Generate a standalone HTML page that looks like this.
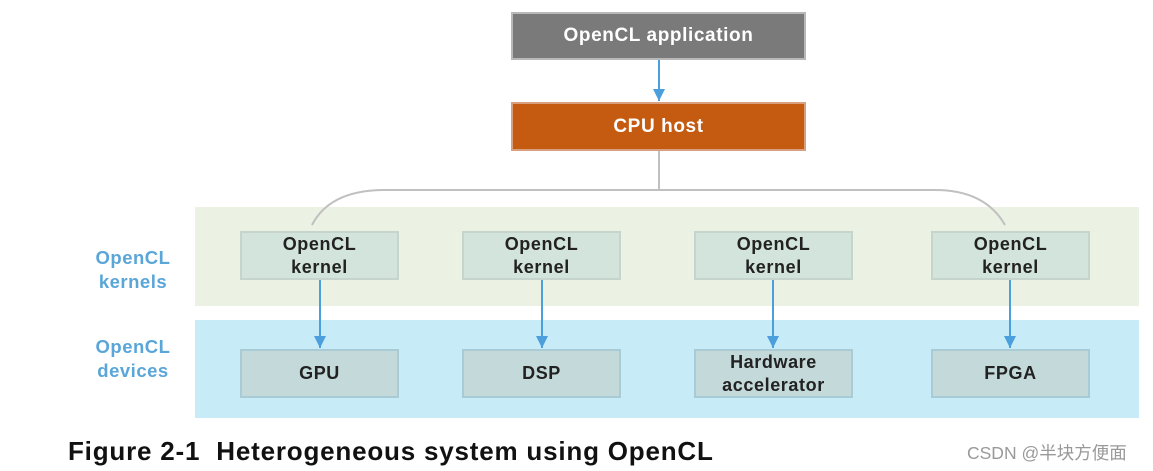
<!DOCTYPE html>
<html><head><style>
body{margin:0;width:1153px;height:471px;background:#fff;position:relative;font-family:"Liberation Sans",Arial,sans-serif;overflow:hidden}
.b{position:absolute;display:flex;align-items:center;justify-content:center;text-align:center;font-weight:bold;box-sizing:border-box;letter-spacing:0.6px}
.k{background:#d3e4dd;border:2px solid #c5d5ce;color:#222;font-size:18px;line-height:23px;width:159px;height:49px;top:231px}
.d{background:#c4d9d9;border:2px solid #a8cbd6;color:#222;font-size:18px;line-height:23px;width:159px;height:49px;top:349px}
.lab{position:absolute;color:#5aa6d9;font-weight:bold;font-size:18.5px;line-height:24px;text-align:center;width:100px;letter-spacing:0.5px}
</style></head><body>
<div style="position:absolute;left:195px;top:207px;width:944px;height:99px;background:#ebf1e3"></div>
<div style="position:absolute;left:195px;top:320px;width:944px;height:98px;background:#c8ebf8"></div>
<div class="b" style="left:511px;top:12px;width:295px;height:48px;background:#7a7a7a;border:2px solid #b8b8b8;color:#fff;font-size:19px">OpenCL application</div>
<div class="b" style="left:511px;top:102px;width:295px;height:49px;background:#c55a11;border:2px solid #d9a080;color:#fff;font-size:19px">CPU host</div>
<svg width="1153" height="471" style="position:absolute;left:0;top:0">
<defs><marker id="a" markerWidth="12" markerHeight="12" refX="12" refY="6" orient="auto" markerUnits="userSpaceOnUse"><path d="M0,0L12,6L0,12z" fill="#4a9fdc"/></marker></defs>
<g stroke="#4a9fdc" stroke-width="2" marker-end="url(#a)">
<line x1="659" y1="60" x2="659" y2="101"/>
<line x1="320" y1="280" x2="320" y2="348"/>
<line x1="542" y1="280" x2="542" y2="348"/>
<line x1="773" y1="280" x2="773" y2="348"/>
<line x1="1010" y1="280" x2="1010" y2="348"/>
</g>
<g stroke="#c0c0c0" stroke-width="2" fill="none">
<line x1="659" y1="151" x2="659" y2="190"/>
<path d="M312,225 Q330,190 385,190 L935,190 Q985,190 1005,225"/>
</g>
</svg>
<div class="b k" style="left:240px">OpenCL<br>kernel</div>
<div class="b k" style="left:462px">OpenCL<br>kernel</div>
<div class="b k" style="left:694px">OpenCL<br>kernel</div>
<div class="b k" style="left:931px">OpenCL<br>kernel</div>
<div class="b d" style="left:240px">GPU</div>
<div class="b d" style="left:462px">DSP</div>
<div class="b d" style="left:694px">Hardware<br>accelerator</div>
<div class="b d" style="left:931px">FPGA</div>
<div class="lab" style="left:83px;top:246px">OpenCL<br>kernels</div>
<div class="lab" style="left:83px;top:335px">OpenCL<br>devices</div>
<div style="position:absolute;left:68px;top:436px;font-weight:bold;font-size:26px;letter-spacing:0.8px;color:#111;white-space:nowrap">Figure 2-1&nbsp; Heterogeneous system using OpenCL</div>
<div style="position:absolute;left:967px;top:440px;font-size:17.5px;color:#999;font-family:'Liberation Sans','Noto Sans CJK SC',sans-serif;white-space:nowrap">CSDN @半块方便面</div>
</body></html>
